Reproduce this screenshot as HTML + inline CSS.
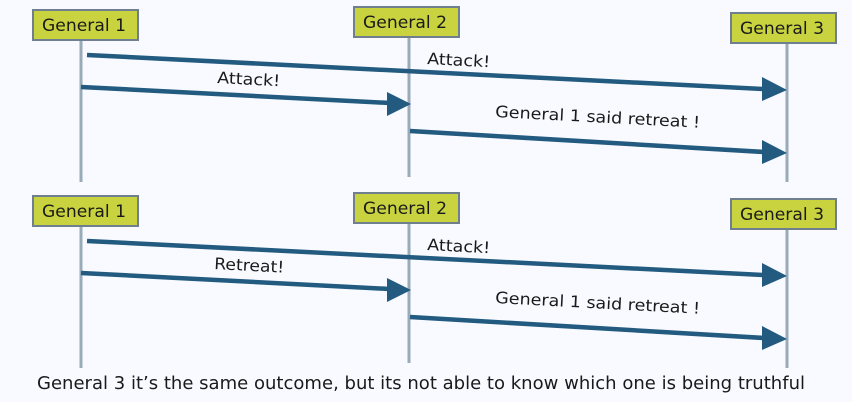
<!DOCTYPE html>
<html><head><meta charset="utf-8"><style>
html,body{margin:0;padding:0;background:#f8faff;}
svg{display:block;}
text{font-family:"DejaVu Sans","Liberation Sans",sans-serif;fill:#1a1a1a;}
</style></head><body>
<svg width="852" height="402" viewBox="0 0 852 402" xmlns="http://www.w3.org/2000/svg">
<rect width="852" height="402" fill="#f8faff"/>
<g id="d1">
<line x1="81" y1="40" x2="81" y2="182" stroke="#9aabb8" stroke-width="3"/>
<line x1="409" y1="37" x2="409" y2="177" stroke="#9aabb8" stroke-width="3"/>
<line x1="787" y1="43" x2="787" y2="182" stroke="#9aabb8" stroke-width="3"/>
<rect x="33" y="10" width="105" height="30" fill="#c8d33f" stroke="#6f7f8f" stroke-width="2"/>
<text x="42" y="31" font-size="17" textLength="84" lengthAdjust="spacingAndGlyphs">General 1</text>
<rect x="354" y="7" width="105" height="30" fill="#c8d33f" stroke="#6f7f8f" stroke-width="2"/>
<text x="363" y="28" font-size="17" textLength="84" lengthAdjust="spacingAndGlyphs">General 2</text>
<rect x="731" y="13" width="105" height="30" fill="#c8d33f" stroke="#6f7f8f" stroke-width="2"/>
<text x="740" y="34" font-size="17" textLength="84" lengthAdjust="spacingAndGlyphs">General 3</text>
<line x1="87" y1="55" x2="764" y2="89" stroke="#235a80" stroke-width="4.5"/>
<polygon points="762,77 787,90 762,101" fill="#235a80"/>
<line x1="81" y1="87" x2="390" y2="103" stroke="#235a80" stroke-width="4.5"/>
<polygon points="387,92 411,104 387,116" fill="#235a80"/>
<line x1="410" y1="131" x2="764" y2="152" stroke="#235a80" stroke-width="4.5"/>
<polygon points="762,140 787,153 762,164" fill="#235a80"/>
<text x="427" y="64" font-size="16" textLength="63" lengthAdjust="spacingAndGlyphs" transform="rotate(3 427 64)">Attack!</text>
<text x="217" y="83" font-size="16" textLength="63" lengthAdjust="spacingAndGlyphs" transform="rotate(3 217 83)">Attack!</text>
<text x="495" y="117" font-size="16" textLength="205" lengthAdjust="spacingAndGlyphs" transform="rotate(3 495 117)">General 1 said retreat !</text>
</g>
<g transform="translate(0,186)">
<line x1="81" y1="40" x2="81" y2="182" stroke="#9aabb8" stroke-width="3"/>
<line x1="409" y1="37" x2="409" y2="177" stroke="#9aabb8" stroke-width="3"/>
<line x1="787" y1="43" x2="787" y2="182" stroke="#9aabb8" stroke-width="3"/>
<rect x="33" y="10" width="105" height="30" fill="#c8d33f" stroke="#6f7f8f" stroke-width="2"/>
<text x="42" y="31" font-size="17" textLength="84" lengthAdjust="spacingAndGlyphs">General 1</text>
<rect x="354" y="7" width="105" height="30" fill="#c8d33f" stroke="#6f7f8f" stroke-width="2"/>
<text x="363" y="28" font-size="17" textLength="84" lengthAdjust="spacingAndGlyphs">General 2</text>
<rect x="731" y="13" width="105" height="30" fill="#c8d33f" stroke="#6f7f8f" stroke-width="2"/>
<text x="740" y="34" font-size="17" textLength="84" lengthAdjust="spacingAndGlyphs">General 3</text>
<line x1="87" y1="55" x2="764" y2="89" stroke="#235a80" stroke-width="4.5"/>
<polygon points="762,77 787,90 762,101" fill="#235a80"/>
<line x1="81" y1="87" x2="390" y2="103" stroke="#235a80" stroke-width="4.5"/>
<polygon points="387,92 411,104 387,116" fill="#235a80"/>
<line x1="410" y1="131" x2="764" y2="152" stroke="#235a80" stroke-width="4.5"/>
<polygon points="762,140 787,153 762,164" fill="#235a80"/>
<text x="427" y="64" font-size="16" textLength="63" lengthAdjust="spacingAndGlyphs" transform="rotate(3 427 64)">Attack!</text>
<text x="214" y="83" font-size="16" textLength="70" lengthAdjust="spacingAndGlyphs" transform="rotate(3 214 83)">Retreat!</text>
<text x="495" y="117" font-size="16" textLength="205" lengthAdjust="spacingAndGlyphs" transform="rotate(3 495 117)">General 1 said retreat !</text>
</g>
<text x="37" y="389" font-size="17.5" textLength="768" lengthAdjust="spacingAndGlyphs">General 3 it’s the same outcome, but its not able to know which one is being truthful</text>
</svg>
</body></html>
